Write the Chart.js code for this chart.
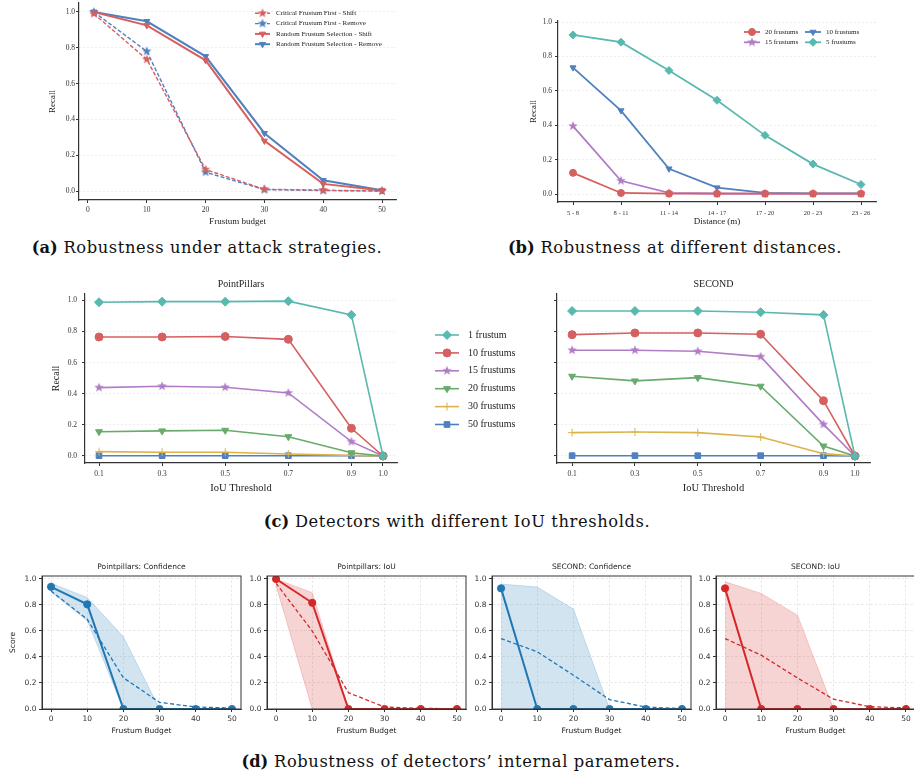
<!DOCTYPE html>
<html>
<head>
<meta charset="utf-8">
<script src="https://cdn.jsdelivr.net/npm/chart.js@4.4.1/dist/chart.umd.min.js"></script>
<style>
  html, body { margin: 0; padding: 0; background: #fff; }
  body { width: 914px; height: 775px; position: relative; overflow: hidden; }
  canvas { position: absolute; }
  .cap {
    position: absolute; white-space: nowrap; color: #111;
    font-family: "DejaVu Serif", serif; font-size: 16.3px; letter-spacing: 0.6px;
    transform: translate(-50%, -50%);
  }
  .cap b { font-weight: bold; letter-spacing: 0; }
</style>
</head>
<body>
<div class="cap" style="left:207px; top:247px"><b>(a)</b> Robustness under attack strategies.</div>
<div class="cap" style="left:675px; top:247px"><b>(b)</b> Robustness at different distances.</div>
<div class="cap" style="left:457px; top:521px"><b>(c)</b> Detectors with different IoU thresholds.</div>
<div class="cap" style="left:461px; top:761px"><b>(d)</b> Robustness of detectors’ internal parameters.</div>
<script>
// ---- (a) attack strategies ----
const budgetA = [1, 10, 20, 30, 40, 50];
const cffShift = [0.99, 0.735, 0.12, 0.01, 0.005, 0.0];
const cffRemove = [1.0, 0.78, 0.105, 0.008, 0.003, 0.0];
const rfsShift = [1.0, 0.925, 0.73, 0.28, 0.04, 0.003];
const rfsRemove = [1.0, 0.948, 0.752, 0.323, 0.06, 0.005];
const budgetTicks = [0, 10, 20, 30, 40, 50];
const recallTicks = [0, 0.2, 0.4, 0.6, 0.8, 1.0];

// ---- (b) distances ----
const distLabels = ['5 - 8', '8 - 11', '11 - 14', '14 - 17', '17 - 20', '20 - 23', '23 - 26'];
const distIdx = [0, 1, 2, 3, 4, 5, 6];
const dist20 = [0.123, 0.006, 0.002, 0.002, 0.002, 0.002, 0.002];
const dist15 = [0.395, 0.077, 0.006, 0.003, 0.002, 0.002, 0.002];
const dist10 = [0.735, 0.485, 0.147, 0.037, 0.006, 0.004, 0.004];
const dist5 = [0.925, 0.883, 0.718, 0.545, 0.341, 0.174, 0.055];

// ---- (c) IoU thresholds ----
const iouThresholds = [0.1, 0.3, 0.5, 0.7, 0.9, 1.0];
const frustumLabels = ['1 frustum', '10 frustums', '15 frustums', '20 frustums', '30 frustums', '50 frustums'];
const pp1 = [0.987, 0.991, 0.991, 0.994, 0.906, 0.0];
const pp10 = [0.764, 0.764, 0.767, 0.749, 0.178, 0.0];
const pp15 = [0.439, 0.448, 0.441, 0.405, 0.092, 0.0];
const pp20 = [0.156, 0.161, 0.165, 0.124, 0.021, 0.0];
const pp30 = [0.028, 0.024, 0.024, 0.013, 0.004, 0.0];
const pp50 = [0.002, 0.002, 0.002, 0.002, 0.002, 0.0];
const sec1 = [0.931, 0.931, 0.931, 0.923, 0.906, 0.0];
const sec10 = [0.779, 0.79, 0.79, 0.782, 0.355, 0.0];
const sec15 = [0.679, 0.679, 0.672, 0.638, 0.203, 0.0];
const sec20 = [0.512, 0.482, 0.503, 0.448, 0.064, 0.0];
const sec30 = [0.15, 0.154, 0.15, 0.122, 0.015, 0.0];
const sec50 = [0.002, 0.002, 0.002, 0.002, 0.002, 0.0];

// ---- (d) internal parameters ----
const budgetD = [0, 10, 20, 30, 40, 50];
const ppConfBest = [0.94, 0.805, 0.0, 0.0, 0.0, 0.0];
const ppConfMean = [0.907, 0.69, 0.24, 0.051, 0.015, 0.008];
const ppConfLow = [0.9, 0.68, 0.0, 0.0, 0.0, 0.0];
const ppConfHigh = [0.967, 0.858, 0.555, 0.0, 0.0, 0.0];
const ppIouBest = [1.0, 0.817, 0.0, 0.0, 0.0, 0.0];
const ppIouMean = [0.967, 0.6, 0.126, 0.015, 0.005, 0.002];
const ppIouLow = [0.95, 0.0, 0.0, 0.0, 0.0, 0.0];
const ppIouHigh = [1.0, 0.895, 0.0, 0.0, 0.0, 0.0];
const secConfBest = [0.928, 0.0, 0.0, 0.0, 0.0, 0.0];
const secConfMean = [0.542, 0.44, 0.26, 0.072, 0.015, 0.003];
const secConfLow = [0.0, 0.0, 0.0, 0.0, 0.0, 0.0];
const secConfHigh = [0.961, 0.938, 0.769, 0.0, 0.0, 0.0];
const secIouBest = [0.928, 0.0, 0.0, 0.0, 0.0, 0.0];
const secIouMean = [0.542, 0.414, 0.239, 0.075, 0.018, 0.008];
const secIouLow = [0.0, 0.0, 0.0, 0.0, 0.0, 0.0];
const secIouHigh = [0.979, 0.889, 0.722, 0.0, 0.0, 0.0];

// colours
const RED = '#d65f5f', BLUE = '#4f80bf', TEAL = '#5ab9af', PURPLE = '#b07cc6',
      GREEN = '#68ab6c', YELLOW = '#dcb24a', MPL_BLUE = '#1f77b4', MPL_RED = '#d62728';
const SERIF = 'Liberation Serif', SANS = 'DejaVu Sans';

// filled five-point star used as a point style
function makeStar(color, r) {
  const c = document.createElement('canvas');
  const s = Math.ceil(r * 2 + 2);
  c.width = c.height = s;
  const g = c.getContext('2d');
  g.fillStyle = color;
  g.beginPath();
  for (let i = 0; i < 10; i++) {
    const rr = i % 2 ? r * 0.42 : r;
    const a = -Math.PI / 2 + i * Math.PI / 5;
    g.lineTo(s / 2 + rr * Math.cos(a), s / 2 + rr * Math.sin(a));
  }
  g.closePath();
  g.fill();
  return c;
}

// legend drawn from the chart's own datasets
const sideLegend = {
  id: 'sideLegend',
  afterDraw(chart, args, o) {
    if (!o || !o.rows) return;
    const ctx = chart.ctx;
    ctx.save();
    chart.data.datasets.forEach((ds, i) => {
      const col = Math.floor(i / o.rows), row = i % o.rows;
      const x = o.x + col * (o.colW || 0), y = o.y + row * o.rowH;
      ctx.strokeStyle = ds.borderColor;
      ctx.lineWidth = ds.borderWidth;
      ctx.setLineDash(ds.borderDash || []);
      ctx.beginPath();
      ctx.moveTo(x, y);
      ctx.lineTo(x + o.lineLen, y);
      ctx.stroke();
      ctx.setLineDash([]);
      ctx.fillStyle = ds.pointBackgroundColor;
      ctx.strokeStyle = ds.pointBorderColor;
      ctx.lineWidth = 1;
      Chart.helpers.drawPoint(ctx, {
        pointStyle: ds.pointStyle, rotation: ds.pointRotation || 0,
        radius: ds.pointRadius, borderWidth: 1
      }, x + o.lineLen / 2, y);
      ctx.fillStyle = '#222';
      ctx.font = o.font;
      ctx.textBaseline = 'middle';
      ctx.textAlign = 'left';
      ctx.fillText(ds.label, x + o.textOff, y);
    });
    ctx.restore();
  }
};

// full box around the plot area (matplotlib style)
const frame = {
  id: 'frame',
  afterDraw(chart, args, o) {
    if (!o || !o.show) return;
    const a = chart.chartArea, ctx = chart.ctx;
    ctx.save();
    ctx.strokeStyle = '#333';
    ctx.lineWidth = 1;
    ctx.strokeRect(a.left, a.top, a.right - a.left, a.bottom - a.top);
    ctx.restore();
  }
};
Chart.register(sideLegend, frame);

function series(label, xs, ys, color, marker, extra) {
  return Object.assign({
    label: label,
    data: xs.map((x, i) => ({x: x, y: ys[i]})),
    borderColor: color, backgroundColor: color,
    pointBackgroundColor: color, pointBorderColor: color,
    borderWidth: 1.8, pointRadius: 3.5, pointBorderWidth: 1,
    pointStyle: marker, tension: 0, fill: false
  }, extra || {});
}

function scale(o) {
  const isX = o.axis === 'x';
  return {
    type: 'linear',
    position: isX ? 'bottom' : 'left',
    min: o.min, max: o.max,
    afterBuildTicks: s => { s.ticks = o.ticks.map(v => ({value: v})); },
    afterFit: s => {
      if (isX) s.height = o.size; else s.width = o.size;
      s.paddingLeft = s.paddingRight = s.paddingTop = s.paddingBottom = 0;
    },
    ticks: {
      display: o.labels !== false,
      autoSkip: false, maxRotation: 0, minRotation: 0,
      padding: o.pad, color: '#333',
      font: {family: o.family, size: o.fontSize},
      callback: o.fmt
    },
    grid: {
      display: true,
      drawOnChartArea: !!o.grid,
      color: o.gridColor || '#e9e9e9',
      lineWidth: 0.8,
      drawTicks: true, tickLength: 3, tickColor: '#333', tickWidth: 1
    },
    border: {display: true, color: '#333', width: o.borderWidth || 1.2, dash: o.dash || [2, 2]},
    title: {
      display: !!o.title, text: o.title || '', color: '#222', padding: 0,
      font: {family: o.family, size: o.titleSize}
    }
  };
}

function makeChart(left, top, W, H, datasets, options) {
  const c = document.createElement('canvas');
  c.width = W; c.height = H;
  c.style.left = left + 'px'; c.style.top = top + 'px';
  c.style.width = W + 'px'; c.style.height = H + 'px';
  document.body.appendChild(c);
  options.responsive = false;
  options.animation = false;
  options.devicePixelRatio = 1;
  options.events = [];
  options.plugins = Object.assign({legend: {display: false}, tooltip: {enabled: false}}, options.plugins);
  return new Chart(c, {type: 'line', data: {datasets: datasets}, options: options});
}

const fmt1 = v => v.toFixed(1);

// ---------- (a) ----------
makeChart(0, 0, 440, 235, [
  series('Critical Frustum First - Shift', budgetA, cffShift, RED, makeStar(RED, 5), {borderDash: [4, 2], borderWidth: 1.4}),
  series('Critical Frustum First - Remove', budgetA, cffRemove, BLUE, makeStar(BLUE, 5), {borderDash: [4, 2], borderWidth: 1.4}),
  series('Random Frustum Selection - Shift', budgetA, rfsShift, RED, 'triangle', {pointRotation: 180, borderWidth: 2}),
  series('Random Frustum Selection - Remove', budgetA, rfsRemove, BLUE, 'triangle', {pointRotation: 180, borderWidth: 2})
], {
  layout: {autoPadding: false, padding: {left: 47.6, top: 3, right: 44, bottom: 7.6}},
  scales: {
    x: scale({axis: 'x', min: -1.53, max: 52.38, ticks: budgetTicks, fmt: v => String(v),
      size: 27.4, pad: 2.5, family: SERIF, fontSize: 7.5, title: 'Frustum budget', titleSize: 9}),
    y: scale({axis: 'y', min: -0.05, max: 1.05, ticks: recallTicks, fmt: fmt1, grid: true,
      size: 31.4, pad: 1, family: SERIF, fontSize: 7.5, title: 'Recall', titleSize: 9})
  },
  plugins: {sideLegend: {x: 255, y: 13.3, rows: 4, rowH: 10.3, lineLen: 15, textOff: 21, font: '7px "Liberation Serif"'}}
});

// ---------- (b) ----------
makeChart(440, 0, 474, 235, [
  series('20 frustums', distIdx, dist20, RED, 'circle'),
  series('15 frustums', distIdx, dist15, PURPLE, makeStar(PURPLE, 5)),
  series('10 frustums', distIdx, dist10, BLUE, 'triangle', {pointRotation: 180}),
  series('5 frustums', distIdx, dist5, TEAL, 'rectRot', {pointRadius: 4})
], {
  layout: {autoPadding: false, padding: {left: 88.6, top: 21, right: 38, bottom: 7.6}},
  scales: {
    x: scale({axis: 'x', min: -0.3125, max: 6.3125, ticks: distIdx, fmt: v => distLabels[v],
      size: 25.4, pad: 4, family: SERIF, fontSize: 6.5, title: 'Distance (m)', titleSize: 9}),
    y: scale({axis: 'y', min: -0.0465, max: 1.006, ticks: recallTicks, fmt: fmt1, grid: true,
      size: 29.4, pad: 3, family: SERIF, fontSize: 7.5, title: 'Recall', titleSize: 9})
  },
  plugins: {sideLegend: {x: 304, y: 32, rows: 2, colW: 61, rowH: 10.3, lineLen: 16, textOff: 21, font: '7px "Liberation Serif"'}}
});

// ---------- (c) ----------
function iouSets(v1, v10, v15, v20, v30, v50) {
  const w = {borderWidth: 1.6, pointRadius: 4};
  return [
    series(frustumLabels[0], iouThresholds, v1, TEAL, 'rectRot', {borderWidth: 1.6, pointRadius: 4.5}),
    series(frustumLabels[1], iouThresholds, v10, RED, 'circle', w),
    series(frustumLabels[2], iouThresholds, v15, PURPLE, makeStar(PURPLE, 5), w),
    series(frustumLabels[3], iouThresholds, v20, GREEN, 'triangle', Object.assign({pointRotation: 180}, w)),
    series(frustumLabels[4], iouThresholds, v30, YELLOW, 'cross', w),
    series(frustumLabels[5], iouThresholds, v50, BLUE, 'rect', w)
  ];
}

makeChart(0, 265, 420, 240, iouSets(pp1, pp10, pp15, pp20, pp30, pp50), {
  layout: {autoPadding: false, padding: {left: 50, top: 13, right: 23, bottom: 10.7}},
  scales: {
    x: scale({axis: 'x', min: 0.0556, max: 1.0444, ticks: iouThresholds, fmt: fmt1,
      size: 31.3, pad: 3.5, family: SERIF, fontSize: 7.5, title: 'IoU Threshold', titleSize: 10.5}),
    y: scale({axis: 'y', min: -0.045, max: 1.04, ticks: recallTicks, fmt: fmt1, grid: true,
      size: 35, pad: 5, family: SERIF, fontSize: 7.5, title: 'Recall', titleSize: 10})
  },
  plugins: {title: {display: true, text: 'PointPillars', fullSize: false, color: '#222',
    font: {family: SERIF, size: 10, weight: 'normal'}, padding: {top: 0, bottom: 4}}}
});

makeChart(420, 265, 494, 240, iouSets(sec1, sec10, sec15, sec20, sec30, sec50), {
  layout: {autoPadding: false, padding: {left: 127, top: 13, right: 44, bottom: 10.7}},
  scales: {
    x: scale({axis: 'x', min: 0.052, max: 1.048, ticks: iouThresholds, fmt: fmt1,
      size: 31.3, pad: 3.5, family: SERIF, fontSize: 7.5, title: 'IoU Threshold', titleSize: 10.5}),
    y: scale({axis: 'y', min: -0.045, max: 1.04, ticks: recallTicks, fmt: fmt1, grid: true, labels: false,
      size: 10, pad: 5, family: SERIF, fontSize: 7.5})
  },
  plugins: {
    title: {display: true, text: 'SECOND', fullSize: false, color: '#222',
      font: {family: SERIF, size: 10, weight: 'normal'}, padding: {top: 0, bottom: 4}},
    sideLegend: {x: 15, y: 70, rows: 6, rowH: 17.9, lineLen: 24, textOff: 33, font: '10px "Liberation Serif"'}
  }
});

// ---------- (d) ----------
function rgba(hex, a) {
  const n = parseInt(hex.slice(1), 16);
  return 'rgba(' + (n >> 16) + ',' + ((n >> 8) & 255) + ',' + (n & 255) + ',' + a + ')';
}

function detectorPanel(left, title, color, best, mean, low, high, yTitle) {
  const sets = [
    series('best', budgetD, best, color, 'circle', {borderWidth: 2, pointRadius: 3.6}),
    series('mean', budgetD, mean, color, 'circle', {borderWidth: 1.3, borderDash: [4, 2.5], pointRadius: 0}),
    series('max', budgetD, high, rgba(color, 0.25), 'circle', {borderWidth: 0.8, pointRadius: 0,
      fill: '+1', backgroundColor: rgba(color, 0.2)}),
    series('min', budgetD, low, rgba(color, 0.25), 'circle', {borderWidth: 0.8, pointRadius: 0})
  ];
  const yW = yTitle ? 33.5 : 20;
  makeChart(left - 42, 550, 250, 190, sets, {
    layout: {autoPadding: false, padding: {left: 42 - yW, top: 12.5, right: 9, bottom: 4.5}},
    scales: {
      x: scale({axis: 'x', min: -2.5, max: 52.5, ticks: budgetTicks, fmt: v => String(v), grid: true,
        gridColor: '#e2e2e2', dash: [2.5, 2], borderWidth: 1,
        size: 26.5, pad: 3, family: SANS, fontSize: 7.5, title: 'Frustum Budget', titleSize: 7.5}),
      y: scale({axis: 'y', min: 0, max: 1.023, ticks: recallTicks, fmt: fmt1, grid: true,
        gridColor: '#e2e2e2', dash: [2.5, 2], borderWidth: 1,
        size: yW, pad: 2.5, family: SANS, fontSize: 7.5, title: yTitle, titleSize: 7.5})
    },
    plugins: {
      title: {display: true, text: title, fullSize: false, color: '#222',
        font: {family: SANS, size: 7.5, weight: 'normal'}, padding: {top: 0, bottom: 4.5}},
      frame: {show: true}
    }
  });
}

detectorPanel(42, 'Pointpillars: Confidence', MPL_BLUE, ppConfBest, ppConfMean, ppConfLow, ppConfHigh, 'Score');
detectorPanel(267, 'Pointpillars: IoU', MPL_RED, ppIouBest, ppIouMean, ppIouLow, ppIouHigh, '');
detectorPanel(492, 'SECOND: Confidence', MPL_BLUE, secConfBest, secConfMean, secConfLow, secConfHigh, '');
detectorPanel(716, 'SECOND: IoU', MPL_RED, secIouBest, secIouMean, secIouLow, secIouHigh, '');
</script>
</body>
</html>
